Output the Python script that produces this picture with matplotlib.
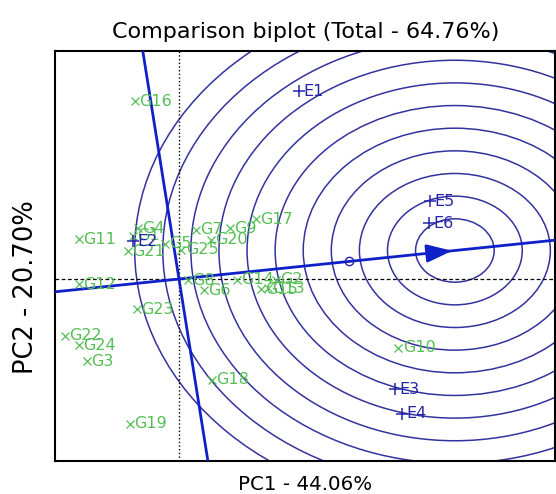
import matplotlib
matplotlib.use('Agg')
import matplotlib.pyplot as plt
from matplotlib.patches import Circle

# genotype scores (PC1, PC2)
gen_names = ['G1', 'G2', 'G3', 'G4', 'G5', 'G6', 'G7', 'G8', 'G9', 'G10',
             'G11', 'G12', 'G13', 'G14', 'G15', 'G16', 'G17', 'G18', 'G19', 'G20',
             'G21', 'G22', 'G23', 'G24', 'G25']
gen_pc1 = [-0.74, 1.57, -1.49, -0.66, -0.23, 0.40, 0.27, 0.15, 0.82, 3.54,
           -1.62, -1.61, 1.44, 0.93, 1.33, -0.71, 1.24, 0.53, -0.79, 0.52,
           -0.83, -1.84, -0.67, -1.61, 0.04]
gen_pc2 = [0.86, -0.02, -1.64, 1.01, 0.70, -0.23, 0.98, -0.03, 1.01, -1.37,
           0.79, -0.11, -0.19, -0.02, -0.21, 3.55, 1.20, -2.02, -2.90, 0.78,
           0.56, -1.14, -0.61, -1.32, 0.58]

# environment scores
env_names = ['E1', 'E2', 'E3', 'E4', 'E5', 'E6']
env_pc1 = [1.94, -0.74, 3.48, 3.60, 4.05, 4.03]
env_pc2 = [3.75, 0.75, -2.20, -2.69, 1.55, 1.11]

# ideal genotype and average environment
ideal = (4.45, 0.57)
aec_mean = (2.74, 0.36)
ring_radii = [0.634, 1.087, 1.540, 1.993, 2.446, 2.899, 3.352, 3.805, 4.258, 4.711, 5.164]

title = 'Comparison biplot (Total - 64.76%)'
xlab = 'PC1 - 44.06%'
ylab = 'PC2 - 20.70%'

green = '#55BE55'
blue = '#1020C8'
navy = '#2424A8'
ring_col = '#33339F'

fig = plt.figure(figsize=(5.56, 4.94), dpi=100)
ax = fig.add_axes([55 / 556, 33 / 494, 500 / 556, 410 / 494])

for r in ring_radii:
    ax.add_patch(Circle(ideal, r, fill=False, edgecolor=ring_col, lw=1.1, zorder=1))

ax.axvline(0, color='black', lw=1.0, ls=':', zorder=2)
ax.axhline(0, color='black', lw=0.9, ls=(0, (3, 2)), zorder=2)

slope = ideal[1] / ideal[0]
ax.axline((0, 0), ideal, color=blue, lw=2, zorder=3)
ax.axline((0, 0), slope=-1 / slope, color=blue, lw=2, zorder=3)
ax.annotate('', xy=ideal, xytext=(ideal[0] - 0.5, ideal[1] - 0.5 * slope),
            arrowprops=dict(arrowstyle='-|>,head_length=0.7,head_width=0.25',
                            color=blue, lw=2, mutation_scale=22), zorder=4)
ax.plot(*aec_mean, 'o', mfc='none', mec=navy, ms=6, mew=1.0, zorder=4)

ax.plot(gen_pc1, gen_pc2, 'x', color=green, ms=6, mew=0.9, ls='none', zorder=5)
for n, x, y in zip(gen_names, gen_pc1, gen_pc2):
    ax.annotate(n, (x, y), xytext=(3, 0), textcoords='offset points',
                color=green, fontsize=11.5, va='center', ha='left', zorder=5)

ax.plot(env_pc1, env_pc2, '+', color=navy, ms=9, mew=1.1, ls='none', zorder=6)
for n, x, y in zip(env_names, env_pc1, env_pc2):
    ax.annotate(n, (x, y), xytext=(3, 0), textcoords='offset points',
                color=navy, fontsize=11.5, va='center', ha='left', zorder=6)

ax.set_xlim(-2.0, 6.065)
ax.set_ylim(-3.64, 4.56)
ax.set_xticks([])
ax.set_yticks([])
for sp in ax.spines.values():
    sp.set_linewidth(1.5)

fig.text(306 / 556, 1 - 38 / 494, title, ha='center', va='baseline', fontsize=16)
fig.text(305 / 556, 1 - 490 / 494, xlab, ha='center', va='baseline', fontsize=14.3)
fig.text(26 / 556, 1 - 287 / 494, ylab, ha='center', va='center', rotation=90, fontsize=18.5)

fig.savefig('out.png', dpi=100)
